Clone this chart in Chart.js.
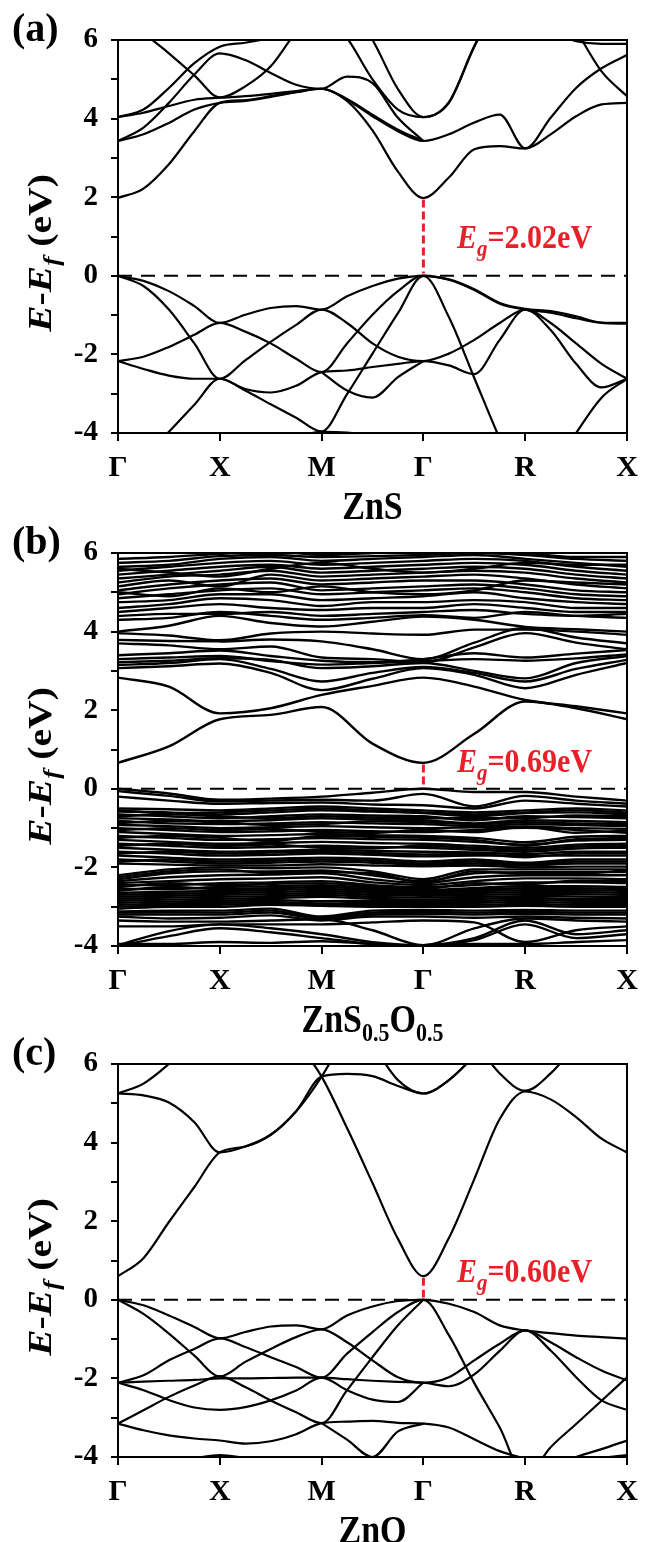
<!DOCTYPE html>
<html>
<head>
<meta charset="utf-8">
<script src="https://cdn.jsdelivr.net/npm/chart.js@4.4.1/dist/chart.umd.min.js"></script>
<style>
  html, body { margin: 0; padding: 0; background: #fff; }
  #wrap { position: relative; width: 670px; height: 1542px; overflow: hidden; }
  .panel { position: absolute; left: 0; width: 670px; height: 540px; }
</style>
</head>
<body>
<div id="wrap">
  <div class="panel" style="top:0"><canvas id="chartA" width="670" height="540"></canvas></div>
  <div class="panel" style="top:513px"><canvas id="chartB" width="670" height="540"></canvas></div>
  <div class="panel" style="top:1024px"><canvas id="chartC" width="670" height="540"></canvas></div>
</div>
<script>
const N = null;
const kLabels = ['Γ', 'X', 'M', 'Γ', 'R', 'X'];
const kFine = [0, 0.25, 0.5, 0.75, 1, 1.25, 1.5, 1.75, 2, 2.25, 2.5, 2.75, 3, 3.25, 3.5, 3.75, 4, 4.25, 4.5, 4.75, 5];
const kCoarse = [0, 0.5, 1, 1.5, 2, 2.5, 3, 3.5, 4, 4.5, 5];
const yTicks = [-4, -2, 0, 2, 4, 6];

// band gap values (eV) and conduction band minimum at Γ
const gapLabels = ['2.02', '0.69', '0.60'];
const cbmAtGamma = [1.98, 0.66, 0.6];

// ZnS, sampled on kFine
const znsBands = [
  [0, -0.13, -0.39, -0.77, -1.2, -0.99, -0.82, -0.77, -0.86, -0.52, -0.26, -0.07, 0, -0.09, -0.34, -0.69, -0.84, -0.9, -1.03, -1.19, -1.2],
  [0, -0.26, -0.86, -1.72, -2.62, -2.15, -1.68, -1.25, -0.86, -1.2, -1.72, -2.06, -2.17, -1.98, -1.63, -1.2, -0.86, -1.2, -1.72, -2.24, -2.62],
  [-2.17, -2.06, -1.81, -1.5, -1.2, -1.42, -1.72, -2.11, -2.45, -1.72, -0.99, -0.39, 0, -1.05, -2.6, -4.15, -5.6, -5.0, -4.0, -3.1, -2.62],
  [-2.17, -2.37, -2.54, -2.62, -2.62, -2.88, -2.97, -2.8, -2.45, -2.41, -2.32, -2.24, -2.17, -2.28, -2.5, -1.63, -0.86, -1.38, -2.24, -2.84, -2.62],
  [-5.2, -4.6, -3.97, -3.28, -2.62, -2.92, -3.27, -3.61, -3.96, -3.01, -1.98, -0.95, 0, -0.1, -0.36, -0.71, -0.86, -0.94, -1.08, -1.2, -1.22],
  [N, N, N, N, N, N, N, N, -2.45, -2.92, -3.1, -2.58, -2.17, N, N, N, N, N, N, N, N],
  [N, N, N, N, N, N, N, -4.1, -3.97, -3.99, -4.08, N, N, N, N, N, N, N, N, N, N],
  [1.98, 2.22, 2.84, 3.68, 4.4, 4.47, 4.57, 4.68, 4.76, 4.45, 3.7, 2.65, 1.98, 2.5, 3.22, 3.3, 3.24, 3.6, 4.06, 4.36, 4.4],
  [3.43, 3.6, 3.89, 4.23, 4.4, 4.45, 4.55, 4.67, 4.76, 4.48, 4.06, 3.68, 3.43, 3.6, 3.9, 4.1, 3.24, 4.02, 4.78, 5.28, 5.62],
  [3.43, 3.77, 4.4, 5.12, 5.66, 5.49, 5.16, 4.86, 4.76, 5.07, 4.9, 4.02, 3.43, N, N, N, N, N, N, N, N],
  [4.04, 4.15, 4.32, 4.48, 4.53, 4.57, 4.63, 4.7, 4.76, 4.5, 4.1, 3.72, 3.43, N, N, N, N, N, N, N, N],
  [4.04, 4.23, 4.78, 5.41, 5.83, 5.93, 6.05, 6.2, 6.4, N, N, N, N, N, N, N, N, N, N, N, N],
  [6.9, 6.2, 5.66, 5.1, 4.54, 4.82, 5.33, 6.2, 6.8, N, N, N, N, N, N, N, N, N, N, N, N],
  [N, N, N, N, N, N, N, N, 6.7, 6.05, 5.0, 4.23, 4.04, 4.4, 5.83, 7.0, N, N, N, N, N],
  [N, N, N, N, N, N, N, N, N, 6.9, 6.0, 4.75, 4.04, 4.42, 5.85, 7.0, N, N, N, N, N],
  [N, N, N, N, N, N, N, N, N, N, N, N, N, N, N, N, N, N, 6.25, 5.2, 4.57],
  [N, N, N, N, N, N, N, N, N, N, N, N, N, N, N, N, N, 6.2, 5.97, 5.9, 5.9]
];

// ZnS0.5O0.5, sampled on kCoarse
const znsoBands = [
  // conduction
  [0.66, 1.08, 1.77, 1.88, 2.08, 1.15, 0.66, 1.4, 2.22, 2.05, 1.77],
  [2.83, 2.6, 1.92, 2.05, 2.39, 2.62, 2.83, 2.6, 2.26, 2.1, 1.92],
  [3.07, 3.12, 3.19, 2.95, 2.51, 2.8, 3.07, 2.9, 2.56, 2.9, 3.2],
  [3.15, 3.2, 3.3, 3.05, 2.73, 2.95, 3.1, 2.95, 2.73, 3.05, 3.28],
  [3.22, 3.26, 3.32, 3.28, 3.07, 3.12, 3.2, 3.0, 2.81, 3.2, 3.38],
  [3.3, 3.34, 3.38, 3.25, 3.16, 3.2, 3.25, 3.3, 3.26, 3.32, 3.42],
  [3.4, 3.45, 3.52, 3.38, 3.26, 3.22, 3.3, 3.45, 3.34, 3.44, 3.53],
  [3.7, 3.65, 3.55, 3.62, 3.34, 3.3, 3.22, 3.6, 3.96, 3.72, 3.55],
  [3.79, 3.76, 3.75, 3.8, 3.75, 3.55, 3.3, 3.72, 4.09, 3.85, 3.7],
  [3.96, 3.9, 3.78, 3.95, 4.0, 3.95, 3.92, 4.05, 4.05, 4.0, 3.92],
  [4.0, 4.15, 4.4, 4.22, 4.13, 4.25, 4.38, 4.3, 4.12, 4.06, 4.0],
  [4.3, 4.35, 4.5, 4.4, 4.3, 4.35, 4.42, 4.35, 4.5, 4.4, 4.35],
  [4.4, 4.45, 4.45, 4.5, 4.4, 4.45, 4.5, 4.55, 4.45, 4.4, 4.45],
  [4.5, 4.6, 4.7, 4.6, 4.55, 4.6, 4.6, 4.7, 4.6, 4.5, 4.5],
  [4.6, 4.7, 4.85, 4.8, 4.65, 4.75, 4.75, 4.8, 4.75, 4.6, 4.6],
  [4.75, 4.8, 4.95, 4.95, 4.8, 4.85, 4.9, 5.0, 4.85, 4.75, 4.7],
  [4.85, 4.95, 5.05, 5.1, 4.95, 5.0, 5.05, 5.1, 5.0, 4.85, 4.8],
  [4.95, 5.1, 5.2, 5.25, 5.05, 5.1, 5.15, 5.2, 5.1, 4.95, 4.9],
  [5.0, 4.9, 5.1, 5.0, 5.15, 5.0, 4.95, 5.05, 5.3, 5.25, 5.2],
  [5.05, 5.2, 5.3, 5.35, 5.2, 5.25, 5.3, 5.3, 5.2, 5.05, 5.0],
  [5.15, 5.3, 5.15, 5.45, 5.3, 5.35, 5.4, 5.45, 5.35, 5.2, 5.1],
  [5.25, 5.4, 5.45, 5.55, 5.4, 5.45, 5.5, 5.55, 5.5, 5.35, 5.25],
  [5.35, 5.45, 5.55, 5.65, 5.5, 5.55, 5.6, 5.65, 5.6, 5.45, 5.35],
  [5.45, 5.55, 5.65, 5.7, 5.6, 5.65, 5.7, 5.75, 5.7, 5.55, 5.45],
  [5.6, 5.5, 5.4, 5.6, 5.75, 5.6, 5.5, 5.6, 5.75, 5.7, 5.7],
  [5.55, 5.65, 5.75, 5.8, 5.7, 5.75, 5.8, 5.85, 5.8, 5.65, 5.55],
  [5.65, 5.7, 5.85, 5.9, 5.8, 5.85, 5.9, 5.95, 5.85, 5.75, 5.65],
  [5.75, 5.8, 5.92, 5.95, 5.9, 5.92, 5.95, 6.0, 5.95, 5.85, 5.8],
  [5.85, 5.9, 5.98, 6.05, 5.95, 6.0, 6.05, 6.1, 6.0, 5.9, 5.9],
  // valence
  [0, -0.12, -0.28, -0.25, -0.2, -0.1, 0, -0.08, -0.08, -0.2, -0.3],
  [-0.06, -0.18, -0.32, -0.3, -0.28, -0.3, -0.13, -0.45, -0.18, -0.3, -0.38],
  [-0.2, -0.3, -0.38, -0.36, -0.35, -0.4, -0.42, -0.5, -0.3, -0.38, -0.45],
  [-0.5, -0.52, -0.55, -0.5, -0.45, -0.5, -0.55, -0.6, -0.55, -0.5, -0.55],
  [-0.55, -0.62, -0.6, -0.55, -0.5, -0.55, -0.6, -0.65, -0.6, -0.55, -0.6],
  [-0.58, -0.6, -0.65, -0.6, -0.55, -0.58, -0.62, -0.7, -0.62, -0.6, -0.65],
  [-0.65, -0.7, -0.75, -0.7, -0.65, -0.68, -0.7, -0.8, -0.7, -0.72, -0.75],
  [-0.7, -0.65, -0.7, -0.75, -0.7, -0.73, -0.75, -0.75, -0.75, -0.68, -0.7],
  [-0.75, -0.78, -0.82, -0.8, -0.75, -0.78, -0.8, -0.88, -0.8, -0.82, -0.85],
  [-0.82, -0.88, -0.9, -0.88, -0.85, -0.88, -0.9, -0.95, -0.9, -0.92, -0.95],
  [-0.87, -0.82, -0.85, -0.92, -0.9, -0.83, -0.85, -0.9, -0.85, -0.88, -0.9],
  [-0.92, -0.95, -1.0, -0.98, -0.95, -0.98, -1.0, -0.98, -0.96, -1.0, -1.02],
  [-1.0, -1.05, -1.1, -1.08, -1.05, -1.08, -1.1, -1.05, -0.99, -1.05, -1.12],
  [-1.05, -1.0, -1.05, -1.02, -1.1, -1.12, -1.05, -1.1, -0.97, -1.12, -1.06],
  [-1.1, -1.15, -1.2, -1.18, -1.15, -1.18, -1.2, -1.25, -1.36, -1.22, -1.2],
  [-1.2, -1.25, -1.3, -1.28, -1.25, -1.28, -1.3, -1.35, -1.42, -1.32, -1.3],
  [-1.25, -1.2, -1.25, -1.33, -1.2, -1.22, -1.25, -1.3, -1.45, -1.28, -1.25],
  [-1.3, -1.35, -1.4, -1.38, -1.35, -1.38, -1.4, -1.45, -1.5, -1.42, -1.4],
  [-1.4, -1.45, -1.5, -1.48, -1.45, -1.48, -1.5, -1.55, -1.6, -1.52, -1.5],
  [-1.45, -1.4, -1.45, -1.42, -1.5, -1.52, -1.45, -1.5, -1.55, -1.47, -1.45],
  [-1.5, -1.55, -1.6, -1.58, -1.55, -1.58, -1.6, -1.62, -1.66, -1.6, -1.6],
  [-1.6, -1.65, -1.7, -1.68, -1.65, -1.68, -1.72, -1.7, -1.7, -1.7, -1.7],
  [-1.65, -1.6, -1.65, -1.62, -1.6, -1.63, -1.67, -1.66, -1.74, -1.65, -1.65],
  [-1.7, -1.75, -1.8, -1.78, -1.75, -1.78, -1.85, -1.8, -1.88, -1.8, -1.8],
  [-1.8, -1.85, -1.9, -1.88, -1.85, -1.88, -1.93, -1.9, -1.95, -1.9, -1.9],
  [-1.85, -1.8, -1.85, -1.83, -1.8, -1.83, -1.9, -1.85, -1.92, -1.85, -1.85],
  [-1.9, -1.93, -1.95, -1.95, -1.92, -1.95, -1.97, -1.95, -2.0, -1.98, -1.98],
  [-2.2, -2.05, -2.0, -2.02, -2.0, -2.1, -2.3, -2.05, -2.05, -2.05, -2.05],
  [-2.25, -2.1, -2.05, -2.15, -2.12, -2.15, -2.38, -2.1, -2.16, -2.16, -2.08],
  [-2.3, -2.15, -2.1, -2.1, -2.08, -2.2, -2.35, -2.15, -2.12, -2.12, -2.12],
  [-2.35, -2.25, -2.2, -2.18, -2.15, -2.3, -2.4, -2.25, -2.2, -2.2, -2.2],
  [-2.4, -2.35, -2.3, -2.28, -2.25, -2.38, -2.45, -2.35, -2.28, -2.28, -2.3],
  [-2.45, -2.45, -2.4, -2.38, -2.35, -2.45, -2.5, -2.45, -2.38, -2.38, -2.4],
  [-2.5, -2.4, -2.45, -2.42, -2.4, -2.48, -2.55, -2.4, -2.43, -2.34, -2.35],
  [-2.55, -2.55, -2.5, -2.48, -2.45, -2.52, -2.58, -2.52, -2.48, -2.48, -2.5],
  [-2.6, -2.5, -2.55, -2.53, -2.5, -2.56, -2.62, -2.56, -2.53, -2.53, -2.55],
  [-2.65, -2.62, -2.6, -2.58, -2.55, -2.6, -2.65, -2.6, -2.58, -2.58, -2.6],
  [-2.7, -2.67, -2.65, -2.63, -2.6, -2.65, -2.68, -2.65, -2.63, -2.63, -2.65],
  [-2.75, -2.72, -2.7, -2.68, -2.65, -2.7, -2.72, -2.7, -2.68, -2.68, -2.7],
  [-2.8, -2.77, -2.75, -2.73, -2.7, -2.75, -2.77, -2.75, -2.73, -2.74, -2.75],
  [-2.85, -2.82, -2.8, -2.78, -2.75, -2.8, -2.82, -2.8, -2.78, -2.8, -2.8],
  [-2.9, -2.87, -2.85, -2.83, -2.86, -2.85, -2.86, -2.85, -2.83, -2.85, -2.85],
  [-2.95, -2.92, -2.9, -2.88, -2.92, -2.9, -2.9, -2.9, -2.88, -2.9, -2.9],
  [-3.0, -2.96, -2.95, -2.92, -2.96, -2.95, -2.95, -2.95, -2.93, -2.95, -2.95],
  [-3.05, -3.0, -3.0, -2.95, -2.98, -3.0, -3.0, -3.0, -2.98, -3.0, -3.0],
  [-3.12, -3.1, -3.1, -3.05, -3.25, -3.1, -3.08, -3.1, -3.08, -3.1, -3.1],
  [-3.15, -3.14, -3.15, -3.1, -3.28, -3.15, -3.13, -3.15, -3.13, -3.15, -3.15],
  [-3.2, -3.2, -3.2, -3.15, -3.3, -3.2, -3.18, -3.2, -3.18, -3.2, -3.2],
  [-3.25, -3.3, -3.28, -3.22, -3.35, -3.25, -3.25, -3.28, -3.25, -3.28, -3.3],
  [-3.35, -3.38, -3.38, -3.35, -3.32, -3.6, -3.98, -3.55, -3.3, -3.35, -3.38],
  [-3.5, -3.5, -3.45, -3.45, -3.45, -3.4, -3.35, -3.4, -3.9, -3.6, -3.5],
  [-3.98, -3.62, -3.45, -3.55, -3.7, -3.9, -3.98, -3.8, -3.35, -3.7, -3.6],
  [-4.0, -3.75, -3.55, -3.65, -3.8, -3.95, -4.0, -3.85, -3.45, -3.8, -3.7],
  [-3.95, -3.95, -3.9, -3.92, -3.88, -3.95, -4.02, -3.95, -3.95, -3.9, -3.85]
];

// ZnO, sampled on kFine
const znoBands = [
  [0, -0.14, -0.4, -0.69, -0.98, -0.82, -0.68, -0.65, -0.75, -0.4, -0.17, -0.03, 0, -0.1, -0.31, -0.65, -0.78, -0.85, -0.91, -0.95, -0.99],
  [0, -0.36, -0.86, -1.42, -1.95, -1.58, -1.25, -0.95, -0.75, -1.08, -1.54, -1.97, -2.11, -1.97, -1.54, -1.12, -0.78, -1.08, -1.46, -1.8, -2.05],
  [-2.11, -1.92, -1.54, -1.25, -0.98, -1.2, -1.46, -1.71, -1.98, -1.37, -0.82, -0.31, 0, -0.9, -2.12, -3.25, -4.5, -3.75, -3.16, -2.57, -1.97],
  [-2.11, -2.08, -2.06, -2.04, -2.0, -2.0, -1.99, -1.98, -1.98, -2.02, -2.06, -2.09, -2.11, -2.2, -1.9, -1.3, -0.78, -1.29, -1.97, -2.56, -2.8],
  [-2.11, -2.3, -2.55, -2.74, -2.8, -2.73, -2.56, -2.31, -1.98, -2.3, -2.54, -2.6, -2.11, N, N, N, N, N, N, N, N],
  [-3.15, -2.81, -2.47, -2.18, -1.95, -2.22, -2.56, -2.86, -3.14, -2.3, -1.46, -0.65, 0, N, N, N, N, N, N, N, N],
  [-3.15, -3.32, -3.45, -3.53, -3.58, -3.66, -3.6, -3.42, -3.14, -3.1, -3.08, -3.13, -3.15, -3.25, -3.55, -3.85, -4.05, -4.3, -4.0, -3.8, -3.58],
  [N, N, N, N, N, N, N, N, -3.14, -3.56, -4.0, -3.35, -3.15, N, N, N, N, N, N, N, N],
  [N, N, -4.1, -4.03, -3.95, -4.02, -4.1, N, N, N, N, N, N, N, N, N, N, N, N, -4.02, -3.95],
  [0.6, 1.06, 1.98, 2.87, 3.75, 3.9, 4.2, 4.8, 5.68, 5.75, 5.69, 5.44, 5.25, 5.59, 6.2, N, N, N, N, N, N],
  [N, N, N, N, N, N, N, 6.6, 5.68, 4.37, 2.97, 1.55, 0.6, 1.57, 3.07, 4.6, 5.3, 5.1, 4.65, 4.1, 3.75],
  [5.25, 5.2, 5.02, 4.52, 3.75, 3.9, 4.2, 4.8, 5.68, 6.8, N, N, N, N, N, N, N, N, N, N, N],
  [5.25, 5.5, 6.0, 6.6, N, N, N, N, N, N, N, N, N, N, N, N, N, N, N, N, N],
  [N, N, N, N, N, N, N, N, N, N, 6.5, 5.59, 5.25, 5.59, 6.2, N, N, N, N, N, N],
  [N, N, N, N, N, N, N, N, N, N, N, N, N, N, 6.6, 5.76, 5.32, 5.76, 6.5, N, N]
];

const SERIF = '"Liberation Serif", "Times New Roman", serif';
const RED = '#e8202a';

function runsWidth(ctx, runs) {
  let w = 0;
  runs.forEach(r => { ctx.font = r.font; w += ctx.measureText(r.t).width; });
  return w;
}
// draws text runs with the baseline at (x, y); sy stretches glyphs vertically
function drawRuns(ctx, runs, x, y, sy) {
  ctx.save();
  ctx.translate(x, y);
  ctx.scale(1, sy || 1);
  let cx = 0;
  runs.forEach(r => {
    ctx.font = r.font;
    ctx.fillText(r.t, cx, (r.dy || 0) / (sy || 1));
    cx += ctx.measureText(r.t).width;
  });
  ctx.restore();
}

const deco = {
  id: 'deco',
  afterDraw(chart, args, opts) {
    const { ctx, chartArea: a, scales: { x, y } } = chart;
    ctx.save();
    ctx.strokeStyle = '#000';
    ctx.lineWidth = 2;
    ctx.strokeRect(a.left, a.top, a.right - a.left, a.bottom - a.top);

    ctx.fillStyle = '#000';
    ctx.textAlign = 'left';
    ctx.textBaseline = 'alphabetic';
    drawRuns(ctx, [{ t: opts.letter, font: 'bold 40px ' + SERIF }], 12, 41, 1);

    // x title
    const tw = runsWidth(ctx, opts.title);
    drawRuns(ctx, opts.title, (a.left + a.right) / 2 - tw / 2, 519, 1.17);

    // y title, rotated, stretched along the text
    const yRuns = [
      { t: 'E', font: 'italic bold 33px ' + SERIF },
      { t: '-', font: 'bold 33px ' + SERIF },
      { t: 'E', font: 'italic bold 33px ' + SERIF },
      { t: 'f', font: 'italic bold 23px ' + SERIF, dy: 8 },
      { t: ' (eV)', font: 'bold 33px ' + SERIF }
    ];
    const yw = runsWidth(ctx, yRuns);
    ctx.save();
    ctx.translate(51, 253);
    ctx.rotate(-Math.PI / 2);
    ctx.scale(1.2, 1);
    drawRuns(ctx, yRuns, -yw / 2, 0);
    ctx.restore();

    // gap label
    ctx.fillStyle = RED;
    drawRuns(ctx, [
      { t: 'E', font: 'italic bold 30px ' + SERIF },
      { t: 'g', font: 'italic bold 21px ' + SERIF, dy: 8 },
      { t: '=' + opts.gap + 'eV', font: 'bold 30px ' + SERIF }
    ], x.getPixelForValue(opts.labelAt[0]), y.getPixelForValue(opts.labelAt[1]), 1.1);
    ctx.restore();
  }
};

function makeChart(id, bands, ks, idx, letter, title, labelAt, lw) {
  const datasets = [
    {
      data: [{ x: 0, y: 0 }, { x: 5, y: 0 }],
      borderColor: '#000', borderWidth: 2, borderDash: [14, 9],
      pointRadius: 0, order: 0
    },
    {
      data: [{ x: 3, y: cbmAtGamma[idx] - 0.04 }, { x: 3, y: 0.06 }],
      borderColor: RED, borderWidth: 3, borderDash: [8, 4],
      pointRadius: 0, order: 0
    }
  ];
  bands.forEach(b => {
    datasets.push({
      data: b.map((e, i) => ({ x: ks[i], y: e })),
      borderColor: '#000', borderWidth: lw, pointRadius: 0,
      cubicInterpolationMode: 'monotone', fill: false, spanGaps: false, order: 1
    });
  });

  return new Chart(document.getElementById(id), {
    type: 'line',
    data: { datasets },
    plugins: [deco],
    options: {
      responsive: false,
      animation: false,
      events: [],
      layout: { padding: { top: 40, right: 43, left: 0, bottom: 0 }, autoPadding: false },
      plugins: {
        legend: { display: false },
        tooltip: { enabled: false },
        deco: { letter, title, gap: gapLabels[idx], labelAt }
      },
      scales: {
        x: {
          type: 'linear', min: 0, max: 5,
          ticks: {
            stepSize: 1, autoSkip: false, maxRotation: 0, padding: 9, color: '#000',
            font: { family: SERIF, size: 30, weight: 'bold' },
            callback: v => kLabels[Math.round(v)]
          },
          grid: { drawOnChartArea: false, tickLength: 8, color: '#000', lineWidth: 2 },
          border: { display: true, color: '#000', width: 2 },
          afterFit: s => { s.height = 107; }
        },
        y: {
          min: -4, max: 6,
          ticks: {
            stepSize: 1, autoSkip: false, padding: 13, color: '#000',
            font: { family: SERIF, size: 29, weight: 'bold' },
            callback: v => (yTicks.includes(v) ? String(v) : '')
          },
          grid: { drawOnChartArea: false, tickLength: 7, color: '#000', lineWidth: 2 },
          border: { display: true, color: '#000', width: 2 },
          afterFit: s => { s.width = 118; }
        }
      }
    }
  });
}

const big = 'bold 34px ' + SERIF;
const sub = 'bold 22px ' + SERIF;
makeChart('chartA', znsBands, kFine, 0, '(a)', [{ t: 'ZnS', font: big }], [3.33, 0.7], 2.2);
makeChart('chartB', znsoBands, kCoarse, 1, '(b)', [
  { t: 'ZnS', font: big }, { t: '0.5', font: sub, dy: 9 },
  { t: 'O', font: big }, { t: '0.5', font: sub, dy: 9 }
], [3.33, 0.44], 2.4);
makeChart('chartC', znoBands, kFine, 2, '(c)', [{ t: 'ZnO', font: big }], [3.33, 0.46], 2.2);
</script>
</body>
</html>
